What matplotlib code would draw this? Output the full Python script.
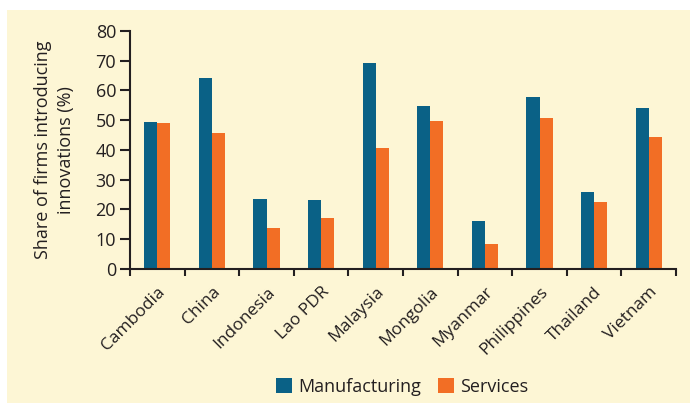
import matplotlib
matplotlib.use("Agg")
import matplotlib.pyplot as plt
import numpy as np
from matplotlib.patches import Rectangle, Patch

categories = ["Cambodia", "China", "Indonesia", "Lao PDR", "Malaysia",
              "Mongolia", "Myanmar", "Philippines", "Thailand", "Vietnam"]
manufacturing = [49.4, 64.2, 23.4, 23.1, 69.3, 54.8, 16.1, 57.8, 25.8, 54.1]
services = [49.1, 45.7, 13.7, 17.1, 40.6, 49.7, 8.3, 50.7, 22.4, 44.3]
yticks = [0, 10, 20, 30, 40, 50, 60, 70, 80]

plt.rcParams['font.family'] = ['Open Sans', 'DejaVu Sans']
txt = '#231f20'
bg = '#fdf6d5'
blue = '#0a6186'
orange = '#f26e25'

W, H = 690, 403
fig = plt.figure(figsize=(W/100, H/100), dpi=100, facecolor='white')
fig.patches.append(Rectangle((7/W, 0), 1 - 7/W, (H - 10)/H, transform=fig.transFigure,
                             facecolor=bg, edgecolor='none', zorder=-10))

ax = fig.add_axes([130/W, 1 - 268.7/H, (676 - 130)/W, (268.7 - 31)/H])
ax.set_facecolor('none')
x = np.arange(len(categories))
bw = 0.24
ax.bar(x - bw/2, manufacturing, bw, color=blue, label='Manufacturing')
ax.bar(x + bw/2, services, bw, color=orange, label='Services')

ax.set_xlim(-0.5, len(categories) - 0.5)
ax.set_ylim(0, 80)
ax.set_yticks(yticks)
ax.set_yticklabels([str(v) for v in yticks], fontsize=13, color=txt)
ax.set_xticks(x)
ax.set_xticklabels(categories, rotation=45, ha='right', va='top', rotation_mode='anchor',
                   fontsize=12.5, color=txt)
ax.tick_params(axis='x', which='major', length=0, pad=11)
ax.set_xticks(np.arange(len(categories) + 1) - 0.5, minor=True)
ax.tick_params(axis='x', which='minor', length=5, width=1.5, color=txt, direction='out')
ax.tick_params(axis='y', length=7, width=1.5, color=txt, pad=3)
for s in ['top', 'right']:
    ax.spines[s].set_visible(False)
for s in ['left', 'bottom']:
    ax.spines[s].set_color(txt)
    ax.spines[s].set_linewidth(1.5)

ax.set_ylabel("Share of firms introducing\ninnovations (%)", fontsize=13, color=txt,
              linespacing=1.3, labelpad=15)

handles = [Patch(facecolor=blue, label='Manufacturing'), Patch(facecolor=orange, label='Services')]
fig.legend(handles=handles, loc='center', bbox_to_anchor=(402/W, 1 - 387/H), ncol=2,
           frameon=False, fontsize=13, handlelength=0.9, handleheight=0.9,
           handletextpad=0.35, columnspacing=0.9, labelcolor=txt)

fig.savefig('out.png', dpi=100, facecolor='white')
